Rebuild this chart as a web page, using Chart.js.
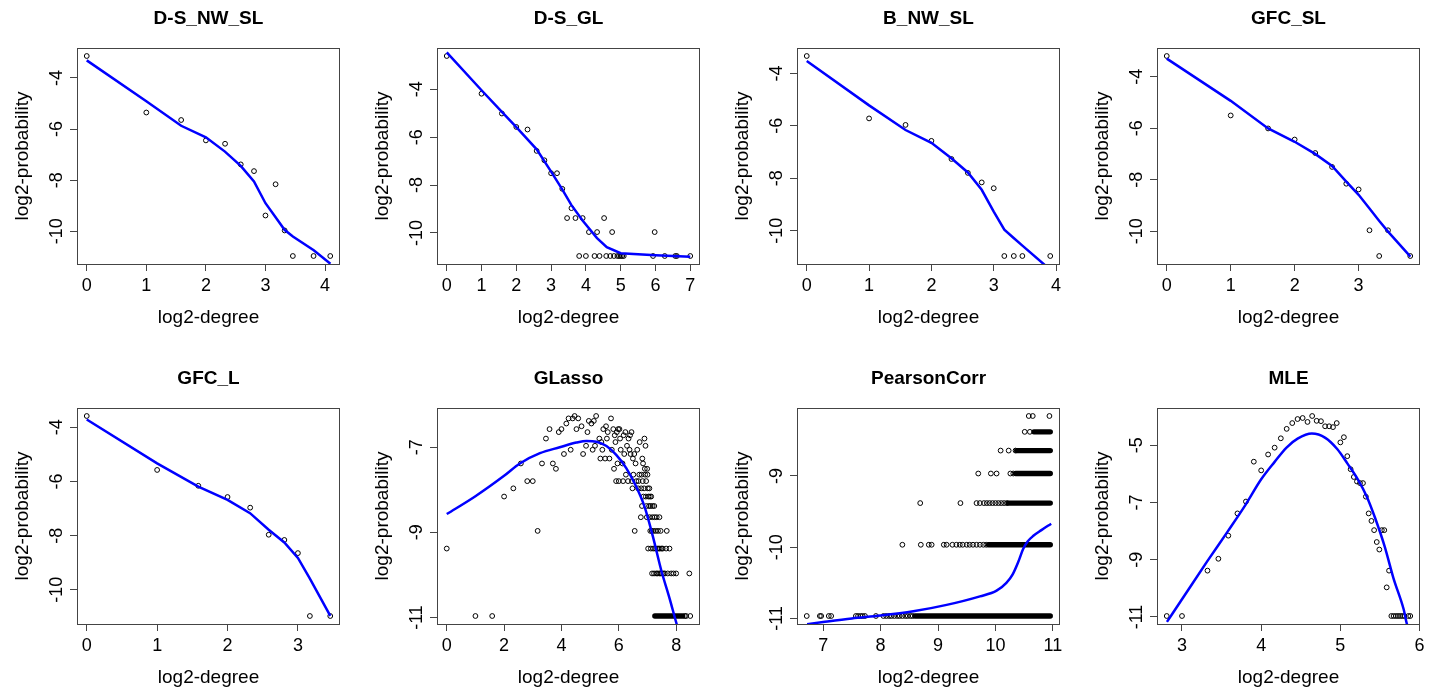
<!DOCTYPE html>
<html>
<head>
<meta charset="utf-8">
<script src="https://cdn.jsdelivr.net/npm/chart.js@4.4.0/dist/chart.umd.min.js"></script>
<style>
  html, body { margin: 0; padding: 0; background: #fff; }
  #grid { position: relative; width: 1434px; height: 690px; overflow: hidden; }
  #grid canvas { position: absolute; }
</style>
</head>
<body>
<div id="grid"></div>
<script>
// Number of nodes: probabilities are count / N_NODES
const N_NODES = 2000;

const panelTitles = ['D-S_NW_SL', 'D-S_GL', 'B_NW_SL', 'GFC_SL', 'GFC_L', 'GLasso', 'PearsonCorr', 'MLE'];

// D-S_NW_SL
const dsNwSlDegree = [1, 2, 3, 4, 5, 6, 7, 8, 9, 10, 11, 14, 17];
const dsNwSlCount = [227, 49, 40, 23, 21, 12, 10, 3, 7, 2, 1, 1, 1];
const dsNwSlFitX = [0, 1, 1.585, 2, 2.32, 2.585, 2.807, 3, 3.17, 3.32, 3.46, 3.81, 4.09];
const dsNwSlFitY = [-3.31, -4.91, -5.87, -6.32, -6.88, -7.44, -8.05, -8.9, -9.45, -9.94, -10.2, -10.74, -11.27];

// D-S_GL
const dsGlDegree = [1, 2, 3, 4, 5, 6, 7, 8, 9, 10, 11, 12, 13, 14, 15, 16, 17,
  19, 20, 21, 23, 24, 26, 27, 28, 30, 31, 32, 33, 34, 61, 63, 77, 95, 98, 128];
const dsGlCount = [328, 110, 62, 42, 39, 21, 16, 11, 11, 7, 3, 4, 3, 1, 3, 1, 2,
  1, 2, 1, 3, 1, 1, 2, 1, 1, 1, 1, 1, 1, 1, 2, 1, 1, 1, 1];
const dsGlFitX = [0, 1, 1.585, 2, 2.585, 3, 3.32, 3.58, 3.91, 4.32, 4.6, 5, 6, 7];
const dsGlFitY = [-2.46, -4.04, -4.94, -5.58, -6.51, -7.44, -8.18, -8.83, -9.49, -10.22, -10.6, -10.85, -10.93, -11.0];

// B_NW_SL
const bNwSlDegree = [1, 2, 3, 4, 5, 6, 7, 8, 9, 10, 11, 15];
const bNwSlCount = [198, 38, 32, 21, 13, 9, 7, 6, 1, 1, 1, 1];
const bNwSlFitX = [0, 1, 1.585, 2, 2.32, 2.585, 2.807, 3, 3.17, 3.32, 3.46, 3.8, 3.91];
const bNwSlFitY = [-3.53, -5.22, -6.16, -6.65, -7.24, -7.78, -8.44, -9.27, -9.96, -10.28, -10.57, -11.27, -11.5];

// GFC_SL
const gfcSlDegree = [1, 2, 3, 4, 5, 6, 7, 8, 9, 10, 11, 14];
const gfcSlCount = [218, 44, 31, 23, 16, 11, 7, 6, 2, 1, 2, 1];
const gfcSlFitX = [0, 1, 1.585, 2, 2.32, 2.585, 2.807, 3, 3.17, 3.32, 3.46, 3.81];
const gfcSlFitY = [-3.30, -4.94, -6.01, -6.53, -7.0, -7.47, -8.08, -8.59, -9.12, -9.6, -10.02, -10.99];

// GFC_L
const gfcLDegree = [1, 2, 3, 4, 5, 6, 7, 8, 9, 11];
const gfcLCount = [167, 42, 28, 21, 16, 8, 7, 5, 1, 1];
const gfcLFitX = [0, 1, 1.585, 2, 2.32, 2.585, 2.807, 3, 3.17, 3.46];
const gfcLFitY = [-3.71, -5.33, -6.19, -6.68, -7.17, -7.78, -8.25, -8.82, -9.59, -10.96];

// GLasso: degrees grouped by their count
const glassoLevels = [26, 25, 24, 23, 22, 21, 20, 19, 18, 17, 16, 15, 14, 13, 12, 11, 10, 9, 8, 7, 6, 5, 4, 3, 2, 1];
const glassoDegreesByLevel = [
  [22, 37],
  [19, 21, 24, 53],
  [31, 35],
  [18, 33],
  [26, 47],
  [12, 16, 23, 44, 56, 63, 65],
  [15, 30, 49, 61, 75, 87],
  [58, 72, 84],
  [11, 40, 48, 66, 81, 119],
  [42, 59, 106],
  [29, 36, 78, 122],
  [20, 34, 43, 54, 67, 83, 100],
  [17, 27, 73, 85, 93],
  [41, 46, 51, 90, 113],
  [6, 10, 13, 62, 70, 96, 115],
  [14, 57, 120, 127],
  [76, 91, 105, 111, 121, 128],
  [7, 8, 60, 64, 71, 80, 88, 98, 103, 114, 124],
  [5, 89, 102, 110, 118, 129, 134],
  [4, 116, 123, 131, 136, 140],
  [112, 125, 133, 138, 145, 151],
  [109, 126, 135, 144, 152, 160, 171],
  [9, 94, 137, 142, 148, 156, 165, 176, 204],
  [1, 130, 139, 147, 154, 162, 168, 173, 180, 185, 201, 218],
  [143, 150, 158, 163, 170, 175, 182, 189, 195, 209, 227, 240, 256, 352],
  [2, 3, 315, 326, 360]
];
// unbroken stretches of degrees (drawn as a solid band of overlapping circles)
const glassoRunFrom = [153];
const glassoRunTo = [300];
const glassoRunLevel = [1];
const glassoFitX = [0, 1, 2, 2.55, 3.25, 3.94, 4.52, 4.87, 5.22, 5.57, 5.91, 6.26, 6.61, 6.9, 7.19, 7.48, 7.77, 8.02, 8.49];
const glassoFitY = [-8.57, -8.15, -7.67, -7.38, -7.14, -7.0, -6.89, -6.85, -6.87, -6.97, -7.18, -7.49, -7.93, -8.40, -9.10, -9.89, -10.55, -11.16, -12.16];

// PearsonCorr
const pearsonLevels = [7, 6, 5, 4, 3, 2, 1];
const pearsonDegreesByLevel = [
  [1531, 1606, 1964],
  [1458, 1552],
  [1090, 1201, 1305],
  [832, 969, 1038, 1226, 1270],
  [413, 671, 815, 849, 891, 923, 955, 989, 1024, 1060, 1097, 1136, 1176],
  [333, 416, 458, 474, 549, 568, 609, 639, 666, 690, 724, 750, 781, 815, 849, 885, 916],
  [105, 123, 125, 137, 141, 190, 195, 201, 206, 212, 242, 265, 274, 284, 292, 302, 313, 322, 333, 345, 355, 367, 377]
];
const pearsonRunFrom = [1629, 1323, 1305, 1193, 942, 388];
const pearsonRunTo = [1984, 1984, 1984, 1984, 1984, 1984];
const pearsonRunLevel = [6, 5, 4, 3, 2, 1];
const pearsonFitX = [6.72, 7.0, 7.5, 8.0, 8.57, 9.15, 9.73, 10.02, 10.19, 10.30, 10.40, 10.48, 10.56, 10.66, 10.80, 10.97];
const pearsonFitY = [-11.08, -11.05, -11.0, -10.96, -10.90, -10.81, -10.69, -10.61, -10.50, -10.38, -10.20, -10.03, -9.92, -9.84, -9.76, -9.67];

// MLE
const mleDegree = [7, 8, 10, 11, 12, 13, 14, 15, 16, 17, 18, 19, 20, 21, 22, 23, 24, 25, 26, 27, 28, 29,
  30, 31, 32, 33, 34, 35, 36, 37, 38, 39, 40, 41, 42, 43, 44, 45, 46, 47, 48, 49, 50, 51, 52, 53, 54, 55, 56, 58, 59];
const mleCount = [1, 1, 3, 4, 7, 12, 16, 42, 34, 50, 59, 74, 93, 107, 118, 121, 110, 127, 113, 112, 99, 99,
  97, 107, 67, 76, 48, 35, 29, 26, 25, 25, 18, 12, 10, 8, 6, 5, 8, 8, 2, 3, 1, 1, 1, 1, 1, 1, 1, 1, 1];
const mleFitX = [2.81, 3, 3.32, 3.58, 3.8, 4, 4.17, 4.32, 4.46, 4.64, 4.81, 4.96, 5.09, 5.22, 5.33, 5.44, 5.56, 5.67, 5.80, 5.84, 5.89];
const mleFitY = [-11.17, -10.38, -9.05, -8.0, -7.09, -6.19, -5.58, -5.08, -4.77, -4.59, -4.74, -5.13, -5.64, -6.19, -6.77, -7.55, -8.54, -9.64, -10.74, -11.24, -11.45];

// Axis tick labels for each panel
const xTickValues = [[0, 1, 2, 3, 4], [0, 1, 2, 3, 4, 5, 6, 7], [0, 1, 2, 3, 4], [0, 1, 2, 3],
  [0, 1, 2, 3], [0, 2, 4, 6, 8], [7, 8, 9, 10, 11], [3, 4, 5, 6]];
const yTickValues = [[-4, -6, -8, -10], [-4, -6, -8, -10], [-4, -6, -8, -10], [-4, -6, -8, -10],
  [-4, -6, -8, -10], [-7, -9, -11], [-9, -10, -11], [-5, -7, -9, -11]];

const FONT = '"Liberation Sans", Arial, Helvetica, sans-serif';

function toPoint(degree, count) {
    return { x: Math.log2(degree), y: Math.log2(count / N_NODES) };
}

function pairPoints(degrees, counts) {
    return degrees.map((d, i) => toPoint(d, counts[i]));
}

function levelPoints(levels, byLevel) {
    const pts = [];
    levels.forEach((c, i) => byLevel[i].forEach(d => pts.push(toPoint(d, c))));
    return pts;
}

function runs(from, to, level) {
    return from.map((f, i) => [toPoint(f, level[i]), toPoint(to[i], level[i])]);
}

const panels = [
    { points: pairPoints(dsNwSlDegree, dsNwSlCount), runs: [], fitX: dsNwSlFitX, fitY: dsNwSlFitY, smooth: false },
    { points: pairPoints(dsGlDegree, dsGlCount), runs: [], fitX: dsGlFitX, fitY: dsGlFitY, smooth: false },
    { points: pairPoints(bNwSlDegree, bNwSlCount), runs: [], fitX: bNwSlFitX, fitY: bNwSlFitY, smooth: false },
    { points: pairPoints(gfcSlDegree, gfcSlCount), runs: [], fitX: gfcSlFitX, fitY: gfcSlFitY, smooth: false },
    { points: pairPoints(gfcLDegree, gfcLCount), runs: [], fitX: gfcLFitX, fitY: gfcLFitY, smooth: false },
    { points: levelPoints(glassoLevels, glassoDegreesByLevel), runs: runs(glassoRunFrom, glassoRunTo, glassoRunLevel),
      fitX: glassoFitX, fitY: glassoFitY, smooth: true },
    { points: levelPoints(pearsonLevels, pearsonDegreesByLevel), runs: runs(pearsonRunFrom, pearsonRunTo, pearsonRunLevel),
      fitX: pearsonFitX, fitY: pearsonFitY, smooth: true },
    { points: pairPoints(mleDegree, mleCount), runs: [], fitX: mleFitX, fitY: mleFitY, smooth: true }
];

// R style axis range: data range stretched by 4% at both ends
function padRange(vals) {
    const lo = Math.min(...vals), hi = Math.max(...vals);
    const e = (hi - lo) * 0.04;
    return [lo - e, hi + e];
}

// box, tick labels, titles (drawn R-like)
const framePlugin = {
    id: 'frame',
    afterDraw(chart, args, opts) {
        const { ctx, chartArea: a, scales: { x, y } } = chart;
        ctx.save();
        ctx.strokeStyle = '#444';
        ctx.lineWidth = 1;
        ctx.strokeRect(Math.round(a.left) + 0.5, Math.round(a.top) + 0.5,
            Math.round(a.right - a.left) - 1, Math.round(a.bottom - a.top));

        ctx.fillStyle = '#000';
        ctx.textAlign = 'center';
        ctx.textBaseline = 'middle';
        ctx.font = '18px ' + FONT;
        x.ticks.forEach(t => ctx.fillText(String(t.value), x.getPixelForValue(t.value), a.bottom + 22));
        y.ticks.forEach(t => {
            ctx.save();
            ctx.translate(a.left - 19.5, y.getPixelForValue(t.value));
            ctx.rotate(-Math.PI / 2);
            ctx.fillText(String(t.value), 0, 0);
            ctx.restore();
        });

        const cx = (a.left + a.right) / 2;
        ctx.font = 'bold 19px ' + FONT;
        ctx.fillText(opts.title, cx, 19);

        ctx.font = '19px ' + FONT;
        ctx.fillText('log2-degree', cx, a.bottom + 54);
        ctx.save();
        ctx.translate(22.5, (a.top + a.bottom) / 2);
        ctx.rotate(-Math.PI / 2);
        ctx.fillText('log2-probability', 0, 0);
        ctx.restore();
        ctx.restore();
    }
};

const grid = document.getElementById('grid');

panels.forEach((p, i) => {
    const canvas = document.createElement('canvas');
    canvas.width = 360;
    canvas.height = 345;
    canvas.style.left = (i % 4) * 360 + 'px';
    canvas.style.top = Math.floor(i / 4) * 360 + 'px';
    grid.appendChild(canvas);

    const allX = p.points.map(d => d.x);
    const allY = p.points.map(d => d.y);
    p.runs.forEach(r => r.forEach(d => { allX.push(d.x); allY.push(d.y); }));
    const [xMin, xMax] = padRange(allX);
    const [yMin, yMax] = padRange(allY);

    const datasets = [{
        label: 'fit',
        data: p.fitX.map((v, k) => ({ x: v, y: p.fitY[k] })),
        showLine: true,
        borderColor: '#0000ff',
        borderWidth: 2.5,
        pointRadius: 0,
        tension: 0,
        cubicInterpolationMode: p.smooth ? 'monotone' : 'default',
        clip: 0,
        order: 0
    }];
    p.runs.forEach(r => datasets.push({
        label: 'run',
        data: r,
        showLine: true,
        borderColor: '#000',
        borderWidth: 5.4,
        borderCapStyle: 'round',
        pointRadius: 0,
        order: 1
    }));
    datasets.push({
        label: 'points',
        data: p.points,
        showLine: false,
        pointStyle: 'circle',
        pointRadius: 2.4,
        pointBorderWidth: 1,
        pointBorderColor: '#000',
        pointBackgroundColor: 'rgba(0,0,0,0)',
        order: 2
    });

    const axisOpts = (min, max, ticks, fitKey, fitSize) => ({
        type: 'linear',
        min: min,
        max: max,
        afterBuildTicks: s => { s.ticks = ticks.map(v => ({ value: v })); },
        afterFit: s => { s[fitKey] = fitSize; },
        ticks: { display: false, autoSkip: false },
        grid: { drawOnChartArea: false, drawTicks: true, tickLength: 7, color: '#444', lineWidth: 1 },
        border: { display: false }
    });

    new Chart(canvas.getContext('2d'), {
        type: 'scatter',
        data: { datasets: datasets },
        options: {
            responsive: false,
            animation: false,
            events: [],
            layout: { padding: { left: 0, right: 20, top: 48, bottom: 0 } },
            scales: {
                x: axisOpts(xMin, xMax, xTickValues[i], 'height', 81),
                y: axisOpts(yMin, yMax, yTickValues[i], 'width', 77)
            },
            plugins: {
                legend: { display: false },
                tooltip: { enabled: false },
                frame: { title: panelTitles[i] }
            }
        },
        plugins: [framePlugin]
    });
});
</script>
</body>
</html>
